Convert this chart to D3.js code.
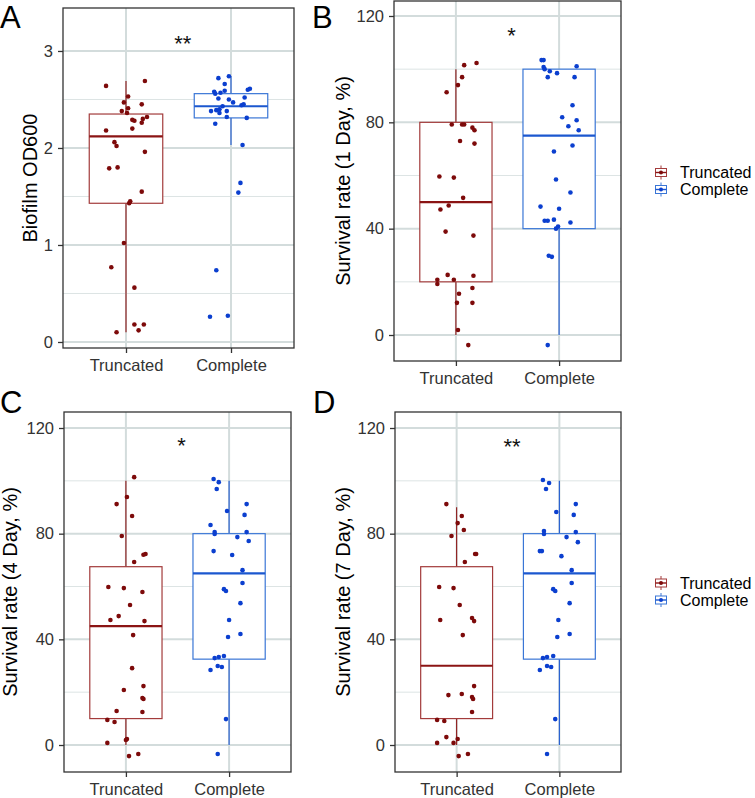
<!DOCTYPE html>
<html><head><meta charset="utf-8">
<script src="https://cdn.jsdelivr.net/npm/d3@7"></script>
<style>body{margin:0;background:#fff}</style>
</head><body><svg id="c" width="755" height="798"></svg>
<script>
const categories = ["Truncated", "Complete"];
const panelLetters = ["A", "B", "C", "D"];
const yTitles = ["Biofilm OD600", "Survival rate (1 Day, %)", "Survival rate (4 Day, %)", "Survival rate (7 Day, %)"];
const biofilmTicks = [0, 1, 2, 3];
const biofilmMinorTicks = [0.5, 1.5, 2.5];
const survivalTicks = [0, 40, 80, 120];
const survivalMinorTicks = [20, 60, 100];
const significance = ["**", "*", "*", "**"];
const significanceY = [3.0, 110, 110.5, 110];

// box stats: [lower whisker, Q1, median, Q3, upper whisker]
const biofilmBoxTruncated = [0.10, 1.43, 2.12, 2.35, 2.69];
const biofilmBoxComplete = [2.03, 2.31, 2.43, 2.56, 2.74];
const day1BoxTruncated = [0, 20, 50, 80, 100];
const day1BoxComplete = [0, 40, 75, 100, 100];
const day4BoxTruncated = [0, 10, 45, 67.5, 100];
const day4BoxComplete = [0, 32.5, 65, 80, 100];
const day7BoxTruncated = [0, 10, 30, 67.5, 90];
const day7BoxComplete = [0, 32.5, 65, 80, 100];

// jittered points: [value, horizontal jitter in category units]
const biofilmTruncated = [[2.64,-0.19],[2.69,0.18],[2.53,0.02],[2.47,-0.02],[2.45,0.15],[2.41,0.02],[2.38,-0.04],[2.36,0.01],[2.32,0.20],[2.29,0.06],[2.30,0.16],[2.28,0.08],[2.26,0.15],[2.18,-0.19],[2.20,0.06],[2.06,-0.11],[2.02,-0.09],[1.96,0.18],[1.79,-0.16],[1.80,-0.08],[1.55,0.15],[1.45,0.04],[1.43,0.03],[1.02,-0.02],[0.77,-0.14],[0.56,0.08],[0.18,0.08],[0.18,0.17],[0.12,0.12],[0.10,-0.09]];
const biofilmComplete = [[2.72,-0.12],[2.74,-0.02],[2.66,-0.06],[2.58,-0.16],[2.56,-0.15],[2.57,-0.10],[2.59,-0.06],[2.60,0.16],[2.61,0.18],[2.51,-0.12],[2.50,-0.02],[2.52,0.13],[2.47,0.02],[2.44,0.10],[2.45,0.12],[2.43,-0.08],[2.38,-0.19],[2.39,-0.14],[2.40,-0.11],[2.36,-0.11],[2.38,-0.04],[2.32,-0.04],[2.31,0.15],[2.25,-0.15],[2.03,0.11],[1.64,0.09],[1.54,0.07],[0.74,-0.14],[0.26,-0.20],[0.27,-0.03]];
const day1Truncated = [[102.3,0.20],[101.5,0.08],[97,0.06],[94,0.02],[91.3,-0.09],[79.2,-0.04],[79.2,0.06],[79.2,0.08],[78,0.16],[77,0.18],[73,0.04],[72,0.18],[59.6,-0.16],[59.2,-0.02],[51.6,0.07],[47.2,-0.15],[48.7,-0.07],[38.9,-0.10],[37.4,0.17],[22.6,-0.08],[20.8,-0.18],[19.2,-0.18],[20.8,-0.02],[22.3,0.17],[17.7,0.16],[15.5,0.03],[12.1,0.01],[12.1,0.16],[1.9,0.02],[-3.8,0.12]];
const day1Complete = [[103.4,-0.17],[103.4,-0.15],[100.8,-0.15],[100,-0.14],[99.2,-0.09],[98.5,-0.02],[101.1,0.17],[97,-0.11],[97,0.15],[86.4,0.13],[81.9,0.03],[80.8,0.17],[78.5,0.09],[77,0.19],[71.3,0.13],[69,-0.05],[58.5,-0.03],[53.6,0.11],[48.3,-0.18],[47.5,0],[43,-0.14],[43,-0.11],[43.4,-0.05],[42.3,0.11],[40,-0.03],[40.8,-0.01],[29.8,-0.10],[29.4,-0.07],[-3.8,-0.11]];
const day4Truncated = [[101.4,0.08],[93.9,0.01],[91.2,-0.09],[86.7,0.06],[79.1,-0.04],[72.3,0.19],[72,0.17],[69.3,0.08],[59.8,-0.17],[59.4,-0.02],[57.9,0.16],[53,0.04],[48.8,-0.07],[47.3,-0.15],[46.9,0.18],[41.6,0.07],[29.1,0.06],[20.8,-0.02],[22.3,0.17],[17.8,0.16],[17.4,0.17],[12.9,-0.09],[12.5,0.16],[9.5,-0.18],[8.7,-0.11],[2.3,0.01],[1.9,0],[0.8,-0.18],[-4.2,0.03],[-3.4,0.12]];
const day4Complete = [[100.7,-0.15],[99.5,-0.10],[96.9,-0.12],[91.2,0.17],[88.6,-0.02],[87.1,0.15],[83.3,-0.18],[80.6,-0.14],[79.9,-0.14],[78.7,0.08],[80.6,0.17],[77.2,0.19],[73.4,-0.15],[71.9,0.03],[66.2,0.13],[61.3,0.13],[59,-0.05],[58.3,-0.03],[53.7,0.11],[47.3,0],[40.9,-0.01],[42,0.11],[32.9,-0.14],[33.3,-0.10],[33.7,-0.05],[29.9,-0.11],[29.5,-0.07],[28.4,-0.18],[9.8,-0.03],[-3.4,-0.11]];
const day7Truncated = [[91.2,-0.10],[86.7,0.05],[84,0.01],[81.4,0.07],[79.1,-0.05],[72.3,0.18],[72.3,0.19],[69.3,0.08],[59.8,-0.17],[59.4,-0.03],[53,0.03],[47.3,-0.16],[48.1,0.15],[46.9,0.17],[41.6,0.06],[22.3,0.17],[18.9,-0.08],[19.3,0.05],[18.2,0.15],[17.4,0.16],[12.5,0.15],[9.5,-0.19],[9.1,-0.12],[3,-0.10],[2.3,0.01],[0.8,-0.03],[0.8,-0.19],[-4.2,0.02],[-3.4,0.11]];
const day7Complete = [[100.3,-0.16],[99.2,-0.10],[96.9,-0.13],[88.2,-0.03],[91.2,0.16],[87.1,0.14],[81,-0.15],[79.9,-0.15],[78.7,0.07],[80.6,0.16],[76.8,0.18],[73.4,-0.19],[73.4,-0.17],[71.5,0.02],[66.2,0.12],[61.3,0.12],[59,-0.06],[58.3,-0.04],[53.7,0.10],[47.3,-0.01],[40.9,-0.02],[42,0.10],[32.9,-0.16],[33.3,-0.12],[33.7,-0.06],[29.9,-0.12],[29.5,-0.08],[28.4,-0.19],[9.8,-0.04],[-3.4,-0.12]];

const pointColors = ["#7d0a0a", "#0b3fcf"];
const boxColors = ["#a33b3b", "#3a76d6"];
const medianColors = ["#8b1414", "#1b57cf"];
const FONT = "'Liberation Sans', Arial, Helvetica, sans-serif";

const layout = [
  {x0: 63, y0: 8, x1: 294, y1: 348, dom: [-0.062, 3.443], ticks: biofilmTicks, minor: biofilmMinorTicks,
   boxes: [biofilmBoxTruncated, biofilmBoxComplete], pts: [biofilmTruncated, biofilmComplete], letterX: 0, letterY: 28, titleX: 37},
  {x0: 394, y0: 1, x1: 621, y1: 361, dom: [-9.78, 125.64], ticks: survivalTicks, minor: survivalMinorTicks,
   boxes: [day1BoxTruncated, day1BoxComplete], pts: [day1Truncated, day1Complete], letterX: 312, letterY: 28, titleX: 350},
  {x0: 64, y0: 412, x1: 291, y1: 772, dom: [-10.22, 126.06], ticks: survivalTicks, minor: survivalMinorTicks,
   boxes: [day4BoxTruncated, day4BoxComplete], pts: [day4Truncated, day4Complete], letterX: 0, letterY: 413, titleX: 17},
  {x0: 395, y0: 412, x1: 621, y1: 772, dom: [-10.22, 126.06], ticks: survivalTicks, minor: survivalMinorTicks,
   boxes: [day7BoxTruncated, day7BoxComplete], pts: [day7Truncated, day7Complete], letterX: 313, letterY: 413, titleX: 350}
];

const svg = d3.select("#c").style("font-family", FONT);

layout.forEach((L, i) => {
  const g = svg.append("g");
  const x = d3.scalePoint().domain(categories).range([L.x0, L.x1]).padding(0.6);
  const y = d3.scaleLinear().domain(L.dom).range([L.y1, L.y0]);
  const step = x.step();

  g.selectAll(".minor").data(L.minor).join("line")
    .attr("x1", L.x0).attr("x2", L.x1).attr("y1", d => y(d)).attr("y2", d => y(d))
    .attr("stroke", "#dde4e4").attr("stroke-width", 1);
  g.selectAll(".major").data(L.ticks).join("line")
    .attr("x1", L.x0).attr("x2", L.x1).attr("y1", d => y(d)).attr("y2", d => y(d))
    .attr("stroke", "#d3dcdc").attr("stroke-width", 2);
  g.selectAll(".vmajor").data(categories).join("line")
    .attr("x1", d => x(d)).attr("x2", d => x(d)).attr("y1", L.y0).attr("y2", L.y1)
    .attr("stroke", "#d3dcdc").attr("stroke-width", 2);

  categories.forEach((c, k) => {
    const b = L.boxes[k];
    const cx = x(c);
    const w = step * 0.7;
    g.append("line").attr("x1", cx).attr("x2", cx).attr("y1", y(b[0])).attr("y2", y(b[1]))
      .attr("stroke", medianColors[k]).attr("stroke-width", 1.1);
    g.append("line").attr("x1", cx).attr("x2", cx).attr("y1", y(b[3])).attr("y2", y(b[4]))
      .attr("stroke", medianColors[k]).attr("stroke-width", 1.1);
    g.append("rect").attr("x", cx - w / 2).attr("y", y(b[3])).attr("width", w).attr("height", y(b[1]) - y(b[3]))
      .attr("fill", "#fff").attr("stroke", boxColors[k]).attr("stroke-width", 1.2);
    g.append("line").attr("x1", cx - w / 2).attr("x2", cx + w / 2).attr("y1", y(b[2])).attr("y2", y(b[2]))
      .attr("stroke", medianColors[k]).attr("stroke-width", 2.2);
  });

  L.pts.forEach((arr, k) => {
    g.append("g").selectAll("circle").data(arr).join("circle")
      .attr("cx", d => x(categories[k]) + d[1] * step)
      .attr("cy", d => y(d[0]))
      .attr("r", 2.3)
      .attr("fill", pointColors[k]);
  });

  g.append("rect").attr("x", L.x0).attr("y", L.y0).attr("width", L.x1 - L.x0).attr("height", L.y1 - L.y0)
    .attr("fill", "none").attr("stroke", "#333").attr("stroke-width", 1.3);

  const ya = g.append("g").attr("transform", `translate(${L.x0},0)`)
    .call(d3.axisLeft(y).tickValues(L.ticks).tickSize(5).tickPadding(5).tickFormat(d3.format("d")));
  const xa = g.append("g").attr("transform", `translate(0,${L.y1})`)
    .call(d3.axisBottom(x).tickSize(5).tickPadding(6));
  [ya, xa].forEach(a => {
    a.select(".domain").remove();
    a.selectAll(".tick line").attr("stroke", "#333").attr("stroke-width", 1.3);
    a.selectAll(".tick text").attr("fill", "#333").style("font-size", "16.5px").style("font-family", FONT);
  });

  const midX = (x(categories[0]) + x(categories[1])) / 2 + 0.04 * step;
  g.append("text").attr("x", midX).attr("y", y(significanceY[i]))
    .attr("text-anchor", "middle").style("font-size", "22px").attr("fill", "#111").text(significance[i]);

  g.append("text").attr("transform", `translate(${L.titleX},${(L.y0 + L.y1) / 2}) rotate(-90)`)
    .attr("text-anchor", "middle").style("font-size", "20px").attr("fill", "#000").text(yTitles[i]);

  svg.append("text").attr("x", L.letterX).attr("y", L.letterY).style("font-size", "31px")
    .attr("fill", "#000").text(panelLetters[i]);
});

const legendRows = [[172.5, 189.5], [583, 600]];
legendRows.forEach(rows => {
  categories.forEach((c, k) => {
    const cy = rows[k], cx = 661;
    const lg = svg.append("g");
    lg.append("line").attr("x1", cx).attr("x2", cx).attr("y1", cy - 7).attr("y2", cy + 7)
      .attr("stroke", boxColors[k]).attr("stroke-width", 1);
    lg.append("rect").attr("x", cx - 5.5).attr("y", cy - 4).attr("width", 11).attr("height", 8)
      .attr("fill", "#fff").attr("stroke", boxColors[k]).attr("stroke-width", 1);
    lg.append("line").attr("x1", cx - 5.5).attr("x2", cx + 5.5).attr("y1", cy).attr("y2", cy)
      .attr("stroke", medianColors[k]).attr("stroke-width", 1.4);
    lg.append("circle").attr("cx", cx).attr("cy", cy).attr("r", 2).attr("fill", pointColors[k]);
    lg.append("text").attr("x", 680).attr("y", cy).attr("dy", "0.36em").style("font-size", "16px")
      .attr("fill", "#000").text(c);
  });
});
</script>
</body></html>
